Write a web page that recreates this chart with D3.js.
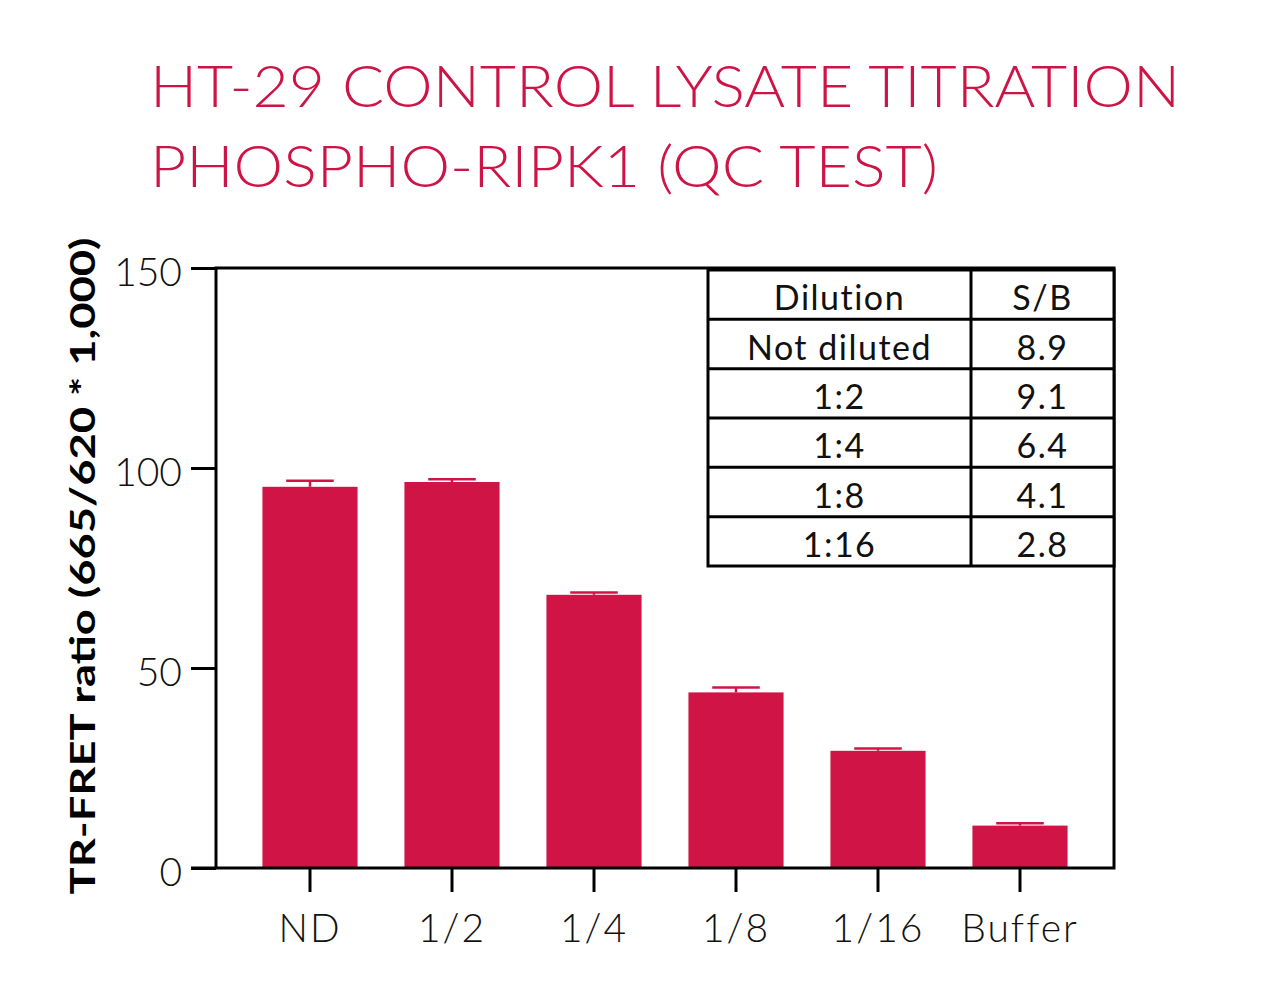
<!DOCTYPE html>
<html>
<head>
    <meta charset="utf-8">
    <title>HT-29 control lysate titration</title>
    <script src="https://d3js.org/d3.v7.min.js"></script>
    <style>
        body { margin: 0; background: #fff; }
        text { font-family: "Lato", "Open Sans", sans-serif; font-weight: 300; }
        .axis .domain { display: none; }
        .axis line { stroke: #000; stroke-width: 3; }
        .axis text { font-size: 39px; fill: #111; font-weight: 300; }
        .xaxis text { letter-spacing: 2px; }
        .cell { font-weight: 400; }
    </style>
</head>
<body>
    <div id="chart"></div>

    <script>
        // 数据
        const categories = ["ND", "1/2", "1/4", "1/8", "1/16", "Buffer"];
        const means = [95.3, 96.5, 68.3, 43.9, 29.3, 10.6];
        const errors = [1.5, 0.7, 0.6, 1.2, 0.6, 0.6];
        const yTicks = [0, 50, 100, 150];
        const tableHeader = ["Dilution", "S/B"];
        const dilutions = ["Not diluted", "1:2", "1:4", "1:8", "1:16"];
        const sbValues = ["8.9", "9.1", "6.4", "4.1", "2.8"];

        const W = 1269, H = 985;
        const red = "#D01446";

        const svg = d3.select("#chart")
            .append("svg")
            .attr("width", W)
            .attr("height", H);

        // 比例尺
        const x = d3.scaleBand()
            .domain(categories)
            .range([239, 1091])
            .paddingInner(0.33)
            .paddingOuter(0.165);

        const y = d3.scaleLinear()
            .domain([0, 150])
            .range([868, 268]);

        // 标题
        const title = svg.append("g").attr("fill", "#CE1446");
        title.append("text")
            .attr("x", 150).attr("y", 107)
            .attr("font-size", 58)
            .attr("textLength", 1030)
            .attr("lengthAdjust", "spacingAndGlyphs")
            .text("HT-29 CONTROL LYSATE TITRATION");
        title.append("text")
            .attr("x", 150).attr("y", 187)
            .attr("font-size", 58)
            .attr("textLength", 788)
            .attr("lengthAdjust", "spacingAndGlyphs")
            .text("PHOSPHO-RIPK1 (QC TEST)");

        // 柱子
        svg.selectAll(".bar")
            .data(categories)
            .enter()
            .append("rect")
            .attr("class", "bar")
            .attr("x", d => x(d))
            .attr("width", x.bandwidth())
            .attr("y", (d, i) => y(means[i]))
            .attr("height", (d, i) => y(0) - y(means[i]))
            .attr("fill", red);

        // 误差线
        const err = svg.selectAll(".err")
            .data(categories)
            .enter()
            .append("g")
            .attr("class", "err")
            .attr("stroke", red)
            .attr("stroke-width", 2.5);
        err.append("line")
            .attr("x1", d => x(d) + x.bandwidth() / 2)
            .attr("x2", d => x(d) + x.bandwidth() / 2)
            .attr("y1", (d, i) => y(means[i]))
            .attr("y2", (d, i) => y(means[i] + errors[i]));
        err.append("line")
            .attr("x1", d => x(d) + x.bandwidth() / 4)
            .attr("x2", d => x(d) + x.bandwidth() * 3 / 4)
            .attr("y1", (d, i) => y(means[i] + errors[i]))
            .attr("y2", (d, i) => y(means[i] + errors[i]));

        // 坐标轴
        svg.append("g")
            .attr("class", "axis")
            .attr("transform", "translate(216,0)")
            .call(d3.axisLeft(y).tickValues(yTicks).tickSize(25).tickPadding(9))
            .selectAll("text").attr("dy", "0.45em");

        svg.append("g")
            .attr("class", "axis xaxis")
            .attr("transform", "translate(0,868)")
            .call(d3.axisBottom(x).tickSize(24).tickPadding(22));

        // 边框
        svg.append("rect")
            .attr("x", 216).attr("y", 268)
            .attr("width", 1114 - 216).attr("height", 868 - 268)
            .attr("fill", "none")
            .attr("stroke", "#000")
            .attr("stroke-width", 3);
        svg.append("line")
            .attr("x1", 191).attr("x2", 216)
            .attr("y1", 868).attr("y2", 868)
            .attr("stroke", "#000").attr("stroke-width", 3);

        // Y轴标题
        svg.append("text")
            .attr("transform", "translate(81,566) rotate(-90)")
            .attr("text-anchor", "middle")
            .attr("dominant-baseline", "central")
            .attr("font-size", 35)
            .style("font-weight", "bold")
            .attr("textLength", 657)
            .attr("lengthAdjust", "spacingAndGlyphs")
            .text("TR-FRET ratio (665/620 * 1,000)");

        // 表格
        const tx = [708, 971, 1114];
        const rowY = d3.scaleBand()
            .domain(d3.range(dilutions.length + 1))
            .range([270, 566]);
        const rows = [tableHeader].concat(dilutions.map((d, i) => [d, sbValues[i]]));

        const table = svg.append("g");
        table.append("rect")
            .attr("x", tx[0]).attr("y", 270)
            .attr("width", tx[2] - tx[0]).attr("height", 296)
            .attr("fill", "#fff")
            .attr("stroke", "#000").attr("stroke-width", 3);
        table.append("line")
            .attr("x1", tx[1]).attr("x2", tx[1])
            .attr("y1", 270).attr("y2", 566)
            .attr("stroke", "#000").attr("stroke-width", 3);
        table.selectAll(".rowline")
            .data(d3.range(1, rows.length))
            .enter()
            .append("line")
            .attr("x1", tx[0]).attr("x2", tx[2])
            .attr("y1", d => rowY(d)).attr("y2", d => rowY(d))
            .attr("stroke", "#000").attr("stroke-width", 3);

        rows.forEach((r, i) => {
            r.forEach((cell, j) => {
                table.append("text")
                    .attr("class", "cell")
                    .attr("x", (tx[j] + tx[j + 1]) / 2)
                    .attr("y", rowY(i) + rowY.bandwidth() / 2 + 2)
                    .attr("text-anchor", "middle")
                    .attr("dominant-baseline", "central")
                    .attr("font-size", 34)
                    .attr("letter-spacing", 1.5)
                    .attr("fill", "#111")
                    .text(cell);
            });
        });
    </script>
</body>
</html>
